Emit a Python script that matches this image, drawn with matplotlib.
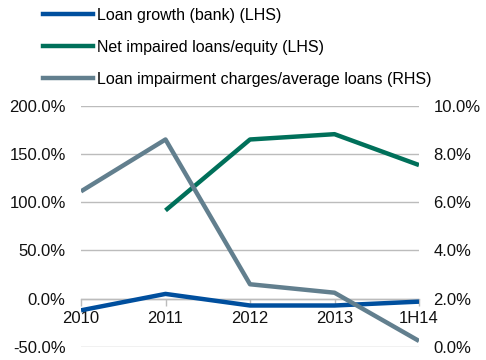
import matplotlib
matplotlib.use("Agg")
import matplotlib.pyplot as plt
from matplotlib.lines import Line2D

plt.rcParams['font.family'] = ['Liberation Sans', 'DejaVu Sans']

periods = ["2010", "2011", "2012", "2013", "1H14"]
loan_growth = [-12.0, 5.0, -7.0, -7.0, -3.0]            # % (LHS)
net_impaired_equity = [None, 91.5, 165.0, 170.5, 138.5]  # % (LHS)
impairment_charges = [6.45, 8.6, 2.6, 2.25, 0.25]       # % (RHS)

left_ticks = [-50, 0, 50, 100, 150, 200]
right_ticks = [0, 2, 4, 6, 8, 10]

c_blue = "#004f9e"
c_green = "#00705a"
c_grey = "#627f8e"
c_grid = "#bcbcbc"

fig = plt.figure(figsize=(4.86, 3.6), dpi=100)
ax = fig.add_axes([81 / 486, 1 - 347 / 360, (419 - 81) / 486, (347 - 105.7) / 360])
ax2 = ax.twinx()

x = list(range(len(periods)))
ax.plot(x, loan_growth, color=c_blue, lw=3.2, solid_capstyle="butt", zorder=3)
ng_x = [i for i, v in zip(x, net_impaired_equity) if v is not None]
ng_y = [v for v in net_impaired_equity if v is not None]
ax.plot(ng_x, ng_y, color=c_green, lw=3.2, solid_capstyle="butt", zorder=3)
ax2.plot(x, impairment_charges, color=c_grey, lw=3.2, solid_capstyle="butt", zorder=3)

ax.set_xlim(0, len(periods) - 1)
ax.set_ylim(-50, 200)
ax2.set_ylim(0, 10)

ax.set_yticks(left_ticks)
ax.set_yticklabels([f"{v:.1f}%" for v in left_ticks])
ax2.set_yticks(right_ticks)
ax2.set_yticklabels([f"{v:.1f}%" for v in right_ticks])

for a in (ax, ax2):
    for s in ("top", "right", "left"):
        a.spines[s].set_visible(False)
ax2.spines["bottom"].set_visible(False)

ax.yaxis.grid(True, color=c_grid, lw=1.0)
ax.set_axisbelow(True)
ax.spines["bottom"].set_position(("data", 0))
ax.spines["bottom"].set_color(c_grid)
ax.spines["bottom"].set_linewidth(1.0)

ax.set_xticks(x)
ax.set_xticklabels(periods)
ax.tick_params(axis="x", direction="out", length=5, color=c_grid, width=1.0,
               labelsize=12, pad=4, labelcolor="#111111")
ax.tick_params(axis="y", length=0, labelsize=12, pad=11, labelcolor="#111111")
ax2.tick_params(axis="y", length=0, labelsize=12, pad=10.5, labelcolor="#111111")

handles = [Line2D([], [], color=c_blue, lw=3.2),
           Line2D([], [], color=c_green, lw=3.2),
           Line2D([], [], color=c_grey, lw=3.2)]
labels = ["Loan growth (bank) (LHS)",
          "Net impaired loans/equity (LHS)",
          "Loan impairment charges/average loans (RHS)"]
fig.legend(handles, labels, loc="upper left", bbox_to_anchor=(35 / 486, 1.0),
           frameon=False, fontsize=11.5, handlelength=3.1, handletextpad=0.3,
           labelspacing=1.05, borderaxespad=0.2, borderpad=0.3)

fig.savefig("out.png", dpi=100)
